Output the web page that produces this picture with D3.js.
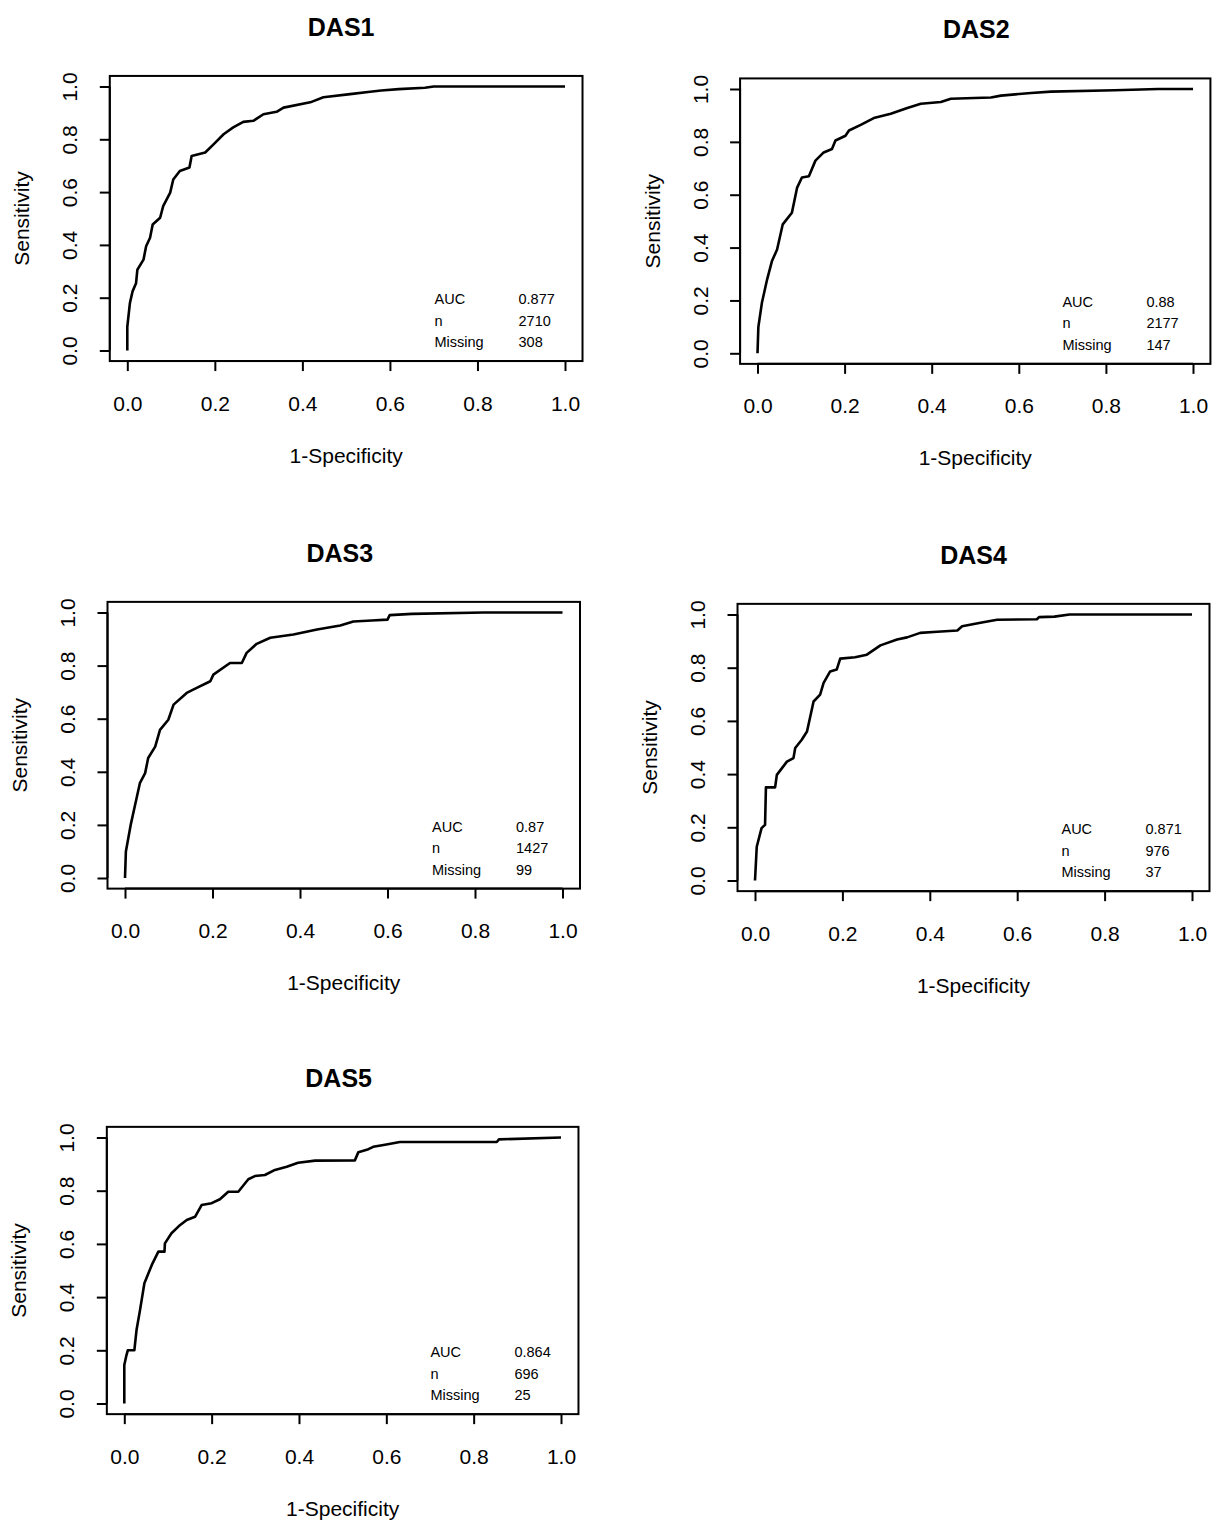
<!DOCTYPE html>
<html>
<head>
<meta charset="utf-8">
<script src="https://cdn.jsdelivr.net/npm/d3@7"></script>
<style>
  html, body { margin: 0; padding: 0; background: #fff; }
  svg { display: block; }
  text { font-family: "Liberation Sans", Arial, Helvetica, sans-serif; fill: #000; }
</style>
</head>
<body>
<svg id="chart" width="1217" height="1520"></svg>
<script>
// ---------- data ----------
const panelTitles = ["DAS1", "DAS2", "DAS3", "DAS4", "DAS5"];
const aucValues = ["0.877", "0.88", "0.87", "0.871", "0.864"];
const nValues = ["2710", "2177", "1427", "976", "696"];
const missingValues = ["308", "147", "99", "37", "25"];
const statLabels = ["AUC", "n", "Missing"];
const tickValues = [0, 0.2, 0.4, 0.6, 0.8, 1.0];
const tickLabels = ["0.0", "0.2", "0.4", "0.6", "0.8", "1.0"];
const xAxisTitle = "1-Specificity";
const yAxisTitle = "Sensitivity";

const das1Fpr = [0,0,0.006,0.012,0.02,0.023,0.037,0.043,0.052,0.058,0.075,0.082,0.098,0.105,0.12,0.142,0.147,0.178,0.197,0.22,0.242,0.265,0.288,0.311,0.341,0.357,0.418,0.448,0.509,0.555,0.58,0.62,0.68,0.70,1.0];
const das1Tpr = [0,0.09,0.18,0.224,0.255,0.306,0.344,0.395,0.427,0.477,0.503,0.547,0.598,0.648,0.68,0.693,0.737,0.75,0.781,0.819,0.845,0.866,0.87,0.895,0.904,0.92,0.94,0.959,0.971,0.98,0.985,0.99,0.995,1.0,1.0];

const das2Fpr = [0,0.002,0.01,0.022,0.033,0.045,0.058,0.079,0.091,0.102,0.118,0.133,0.152,0.171,0.179,0.202,0.21,0.237,0.267,0.306,0.344,0.375,0.421,0.444,0.498,0.536,0.559,0.628,0.674,0.82,0.92,1.0];
const das2Tpr = [0,0.10,0.19,0.279,0.348,0.393,0.488,0.532,0.627,0.665,0.67,0.729,0.76,0.773,0.805,0.823,0.843,0.864,0.89,0.906,0.928,0.944,0.951,0.963,0.966,0.968,0.975,0.985,0.99,0.995,1.0,1.0];

const das3Fpr = [0,0.002,0.013,0.023,0.034,0.046,0.053,0.069,0.08,0.099,0.111,0.141,0.164,0.195,0.202,0.24,0.267,0.278,0.301,0.332,0.385,0.439,0.492,0.522,0.564,0.6,0.605,0.656,0.82,1.0];
const das3Tpr = [0,0.10,0.20,0.275,0.357,0.395,0.452,0.495,0.558,0.596,0.653,0.697,0.716,0.741,0.766,0.81,0.81,0.848,0.882,0.905,0.917,0.936,0.951,0.966,0.97,0.973,0.99,0.995,1.0,1.0];

const das4Fpr = [0,0.004,0.015,0.023,0.025,0.046,0.05,0.073,0.088,0.092,0.107,0.119,0.134,0.149,0.157,0.172,0.187,0.195,0.229,0.256,0.287,0.325,0.348,0.378,0.417,0.463,0.474,0.516,0.554,0.645,0.65,0.685,0.72,1.0];
const das4Tpr = [0,0.127,0.197,0.209,0.35,0.35,0.397,0.447,0.46,0.498,0.529,0.56,0.673,0.699,0.743,0.786,0.793,0.834,0.839,0.849,0.884,0.906,0.914,0.931,0.935,0.94,0.956,0.969,0.98,0.982,0.99,0.992,1.0,1.0];

const das5Fpr = [0,0,0.005,0.008,0.023,0.028,0.036,0.046,0.063,0.078,0.092,0.093,0.108,0.125,0.143,0.162,0.177,0.2,0.219,0.238,0.261,0.284,0.299,0.322,0.345,0.372,0.398,0.437,0.528,0.536,0.559,0.57,0.597,0.631,0.853,0.858,1.0];
const das5Tpr = [0,0.145,0.182,0.2,0.2,0.276,0.351,0.452,0.521,0.571,0.571,0.602,0.64,0.667,0.69,0.702,0.746,0.753,0.768,0.796,0.796,0.843,0.855,0.859,0.878,0.89,0.905,0.913,0.914,0.945,0.956,0.965,0.973,0.983,0.983,0.993,1.0];

const fprSeries = [das1Fpr, das2Fpr, das3Fpr, das4Fpr, das5Fpr];
const tprSeries = [das1Tpr, das2Tpr, das3Tpr, das4Tpr, das5Tpr];

// ---------- layout (pixel ranges for data 0..1) ----------
const layout = [
  { x0: 127.3, x1: 565.0, y0: 350.5, y1: 86.5, tdx: -5 },
  { x0: 757.5, x1: 1193.0, y0: 353.3, y1: 89.0, tdx: 1 },
  { x0: 125.0, x1: 562.5, y0: 878.0, y1: 612.5, tdx: -4 },
  { x0: 755.0, x1: 1192.0, y0: 880.5, y1: 614.5, tdx: 0 },
  { x0: 124.3, x1: 561.0, y0: 1403.5, y1: 1137.5, tdx: -4 }
];

const svg = d3.select("#chart");
svg.append("rect").attr("width", 1217).attr("height", 1520).attr("fill", "#fff");

panelTitles.forEach((title, i) => {
  const L = layout[i];
  const x = d3.scaleLinear().domain([0, 1]).range([L.x0, L.x1]);
  const y = d3.scaleLinear().domain([0, 1]).range([L.y0, L.y1]);
  // R style 4% padding for plot box
  const bx0 = x(-0.04), bx1 = x(1.04), by0 = y(-0.04), by1 = y(1.04);
  const g = svg.append("g");

  // box
  g.append("rect")
    .attr("x", bx0).attr("y", by1)
    .attr("width", bx1 - bx0).attr("height", by0 - by1)
    .attr("fill", "none").attr("stroke", "#000").attr("stroke-width", 2);

  // x axis
  const xAxis = d3.axisBottom(x).tickValues(tickValues)
    .tickFormat((d, k) => tickLabels[k]).tickSize(10).tickPadding(0);
  const gx = g.append("g").attr("transform", `translate(0,${by0})`).call(xAxis);
  gx.select(".domain").attr("stroke", "#000").attr("stroke-width", 2)
    .attr("d", `M${x(0)},0H${x(1)}`);
  gx.selectAll(".tick line").attr("stroke", "#000").attr("stroke-width", 2);
  gx.selectAll(".tick text")
    .attr("y", 0).attr("dy", null)
    .attr("transform", `translate(0,${L.y0 + 52.5 - by0})`)
    .attr("dominant-baseline", "central")
    .style("font-size", "21px").style("font-family", '"Liberation Sans", Arial, sans-serif');

  // y axis
  const yAxis = d3.axisLeft(y).tickValues(tickValues)
    .tickFormat((d, k) => tickLabels[k]).tickSize(10).tickPadding(0);
  const gy = g.append("g").attr("transform", `translate(${bx0},0)`).call(yAxis);
  gy.select(".domain").attr("stroke", "#000").attr("stroke-width", 2)
    .attr("d", `M0,${y(0)}V${y(1)}`);
  gy.selectAll(".tick line").attr("stroke", "#000").attr("stroke-width", 2);
  gy.selectAll(".tick text")
    .attr("x", 0).attr("dy", null)
    .attr("text-anchor", "middle")
    .attr("dominant-baseline", "central")
    .attr("transform", "translate(-40,0) rotate(-90)")
    .style("font-size", "21px").style("font-family", '"Liberation Sans", Arial, sans-serif');

  // curve
  const pts = fprSeries[i].map((v, k) => [v, tprSeries[i][k]]);
  const line = d3.line().x(d => x(d[0])).y(d => y(d[1]));
  g.append("path").datum(pts).attr("d", line)
    .attr("fill", "none").attr("stroke", "#000").attr("stroke-width", 2.6)
    .attr("stroke-linejoin", "round");

  // title
  g.append("text").attr("x", (bx0 + bx1) / 2 + L.tdx).attr("y", by1 - 49)
    .attr("text-anchor", "middle").attr("dominant-baseline", "central")
    .style("font-size", "25px").style("font-weight", "bold").text(title);

  // axis titles
  g.append("text").attr("x", (bx0 + bx1) / 2).attr("y", L.y0 + 104.5)
    .attr("text-anchor", "middle").attr("dominant-baseline", "central")
    .style("font-size", "21px").text(xAxisTitle);
  g.append("text")
    .attr("transform", `translate(${bx0 - 88},${(by0 + by1) / 2}) rotate(-90)`)
    .attr("text-anchor", "middle").attr("dominant-baseline", "central")
    .style("font-size", "21px").text(yAxisTitle);

  // stats block
  const vals = [aucValues[i], nValues[i], missingValues[i]];
  statLabels.forEach((lab, k) => {
    const ty = L.y0 - 51.5 + k * 21.5;
    g.append("text").attr("x", bx1 - 148).attr("y", ty)
      .attr("dominant-baseline", "central").style("font-size", "14.5px").text(lab);
    g.append("text").attr("x", bx1 - 64).attr("y", ty)
      .attr("dominant-baseline", "central").style("font-size", "14.5px").text(vals[k]);
  });
});
</script>
</body>
</html>
